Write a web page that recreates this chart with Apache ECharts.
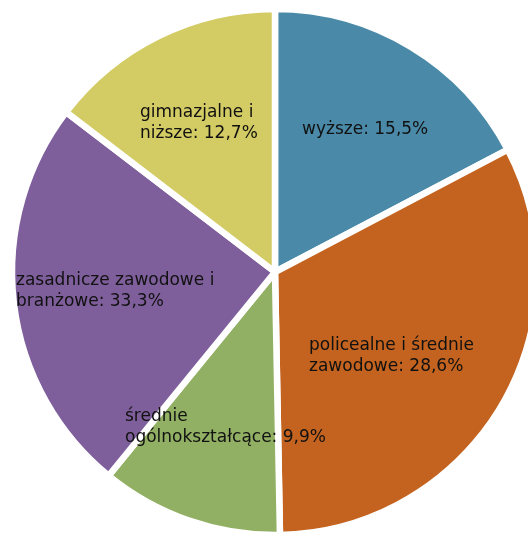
<!DOCTYPE html>
<html>
<head>
<meta charset="utf-8">
<script src="https://cdn.jsdelivr.net/npm/echarts@6/dist/echarts.min.js"></script>
<style>
  html, body { margin: 0; padding: 0; background: #fff; }
  #chart { width: 528px; height: 533px; }
</style>
</head>
<body>
<div id="chart"></div>
<script>
// kategorie (w kolejności zgodnej z ruchem wskazówek zegara od góry)
const categories = ['wyższe', 'policealne i średnie zawodowe', 'średnie ogólnokształcące', 'zasadnicze zawodowe i branżowe', 'gimnazjalne i niższe']
// udziały podpisane na wykresie
const labelShares = ['15,5', '28,6', '9,9', '33,3', '12,7']
// wielkości wycinków
const sliceShares = [17.3, 32.4, 11.2, 24.5, 14.6]
// podpisy z łamaniem wierszy jak na oryginale
const labelLines = ['wyższe', 'policealne i średnie\nzawodowe', 'średnie\nogólnokształcące', 'zasadnicze zawodowe i\nbranżowe', 'gimnazjalne i\nniższe']

const colors = ['#4a8aa8', '#c3631f', '#92b064', '#7e5f9b', '#d3cb63']
// lewy górny róg podpisu
const labelPos = [[302, 130], [309, 356], [125, 427], [16, 291], [140, 123]]

const myEcharts = echarts.init(document.getElementById('chart'))
myEcharts.setOption({
  animation: false,
  color: colors,
  series: [
    {
      type: 'pie',
      center: [275, 272],
      radius: [0, 263],
      startAngle: 90,
      clockwise: true,
      itemStyle: {
        borderColor: '#fff',
        borderWidth: 6.5
      },
      label: {
        show: true,
        position: 'inside',
        color: '#111',
        fontFamily: 'DejaVu Sans',
        fontSize: 17,
        lineHeight: 21,
        align: 'left',
        formatter: p => `${labelLines[p.dataIndex]}: ${labelShares[p.dataIndex]}%`
      },
      labelLayout: p => ({
        x: labelPos[p.dataIndex][0],
        y: labelPos[p.dataIndex][1],
        align: 'left',
        verticalAlign: 'middle'
      }),
      labelLine: { show: false },
      emphasis: { disabled: true },
      data: categories.map((name, i) => ({ name, value: sliceShares[i] }))
    }
  ]
})
</script>
</body>
</html>
